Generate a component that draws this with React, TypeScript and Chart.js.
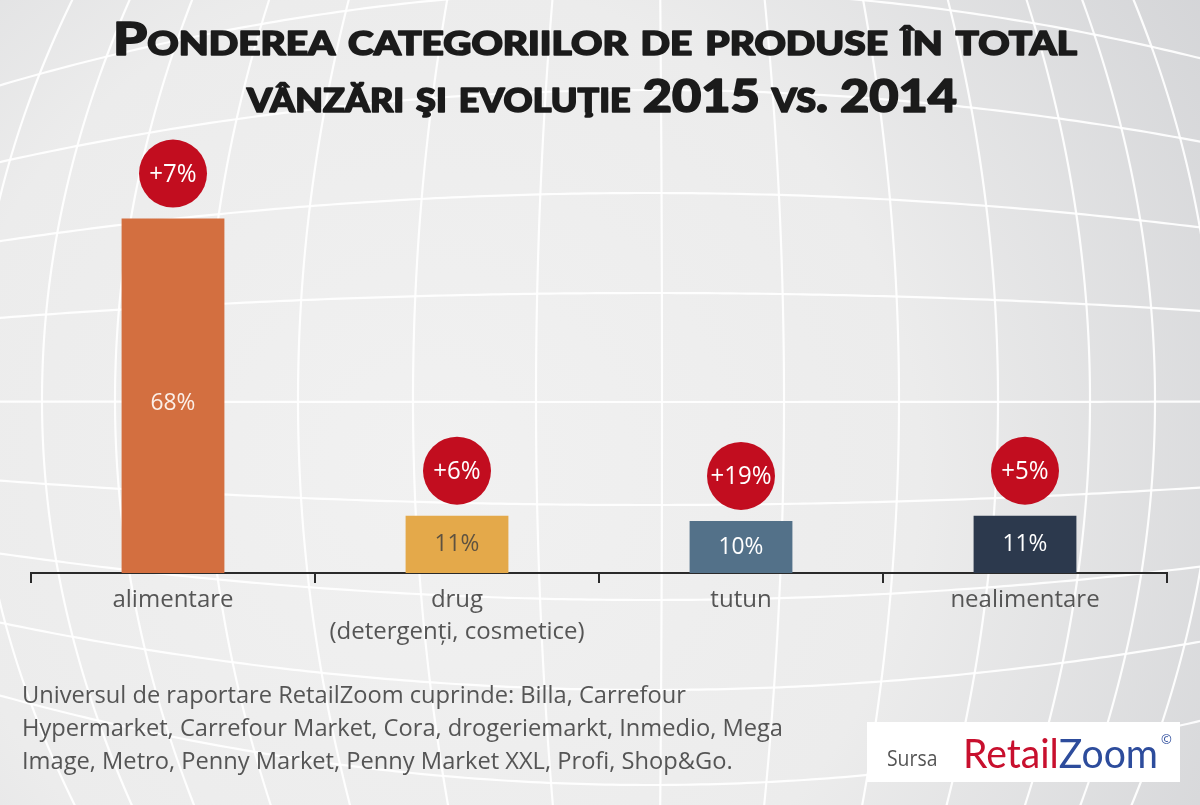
import React, { useEffect, useRef } from "react";
import { Chart, registerables } from "chart.js";

Chart.register(...registerables);

// ---------- data ----------
const categories: string[][] = [
  ["alimentare"],
  ["drug", "(detergenți, cosmetice)"],
  ["tutun"],
  ["nealimentare"],
];
const shareValues = [68, 11, 10, 11];
const growthValues = [7, 6, 19, 5];
const barColors = ["#D36F40", "#E4A94A", "#537189", "#2C394D"];
const valueLabelColors = ["#FBEFE8", "#5E5240", "#FFFFFF", "#FFFFFF"];
const titleLines = [
  "Ponderea categoriilor de produse în total",
  "vânzări şi evoluţie 2015 vs. 2014",
];
const footerLines = [
  "Universul de raportare RetailZoom cuprinde: Billa, Carrefour",
  "Hypermarket, Carrefour Market, Cora, drogeriemarkt, Inmedio, Mega",
  "Image, Metro, Penny Market, Penny Market XXL, Profi, Shop&Go.",
];
const sourceLabel = "Sursa";
const brandParts = ["Retail", "Zoom"];

// ---------- decoration constants ----------
const GRID_ROWS = [-10, 90, 193, 293, 402, 505, 600, 690, 785];
const GRID_COLS = [-25, 42, 115, 205, 298, 413, 536, 662, 784, 899, 998, 1090, 1155, 1215];
const TEXT_FONT = "'Open Sans', 'Noto Sans', sans-serif";
const TITLE_FONT = "Lato, 'DejaVu Sans', sans-serif";

function drawBackground(ctx: CanvasRenderingContext2D, width: number, height: number) {
  const g = ctx.createRadialGradient(430, 470, 0, 430, 470, 980);
  g.addColorStop(0, "#f1f1f1");
  g.addColorStop(0.5, "#ececec");
  g.addColorStop(1, "#d0d1d4");
  ctx.fillStyle = g;
  ctx.fillRect(0, 0, width, height);

  const cx = 650;
  const cy = 400;
  const a = 5.5e-7;
  const b = 9e-7;
  ctx.strokeStyle = "rgba(255,255,255,0.92)";
  ctx.lineWidth = 2.2;
  GRID_ROWS.forEach((yc) => {
    const v = yc - cy;
    ctx.beginPath();
    for (let x = -20; x <= width + 20; x += 8) {
      const u = x - cx;
      const y = cy + v * (1 - a * u * u);
      if (x === -20) ctx.moveTo(x, y);
      else ctx.lineTo(x, y);
    }
    ctx.stroke();
  });
  GRID_COLS.forEach((xc) => {
    const u = xc - cx;
    ctx.beginPath();
    for (let y = -20; y <= height + 20; y += 8) {
      const v = y - cy;
      const x = cx + u * (1 - b * v * v);
      if (y === -20) ctx.moveTo(x, y);
      else ctx.lineTo(x, y);
    }
    ctx.stroke();
  });
}

type Run = { t: string; size: number; w: number };

function buildRuns(ctx: CanvasRenderingContext2D, text: string, big: number, small: number): { runs: Run[]; width: number } {
  const runs: Run[] = [];
  for (const ch of Array.from(text)) {
    const up = ch.toLocaleUpperCase("ro-RO");
    const isSmall = ch !== up;
    const size = isSmall ? small : big;
    const last = runs[runs.length - 1];
    if (last && last.size === size) last.t += up;
    else runs.push({ t: up, size, w: 0 });
  }
  let width = 0;
  runs.forEach((r) => {
    ctx.font = `900 ${r.size}px ${TITLE_FONT}`;
    r.w = ctx.measureText(r.t).width;
    width += r.w;
  });
  return { runs, width };
}

function drawRuns(ctx: CanvasRenderingContext2D, runs: Run[], width: number, cx: number, baseline: number, sx: number) {
  ctx.save();
  ctx.translate(cx - (width * sx) / 2, baseline);
  ctx.scale(sx, 1);
  ctx.fillStyle = "#1b1b1b";
  ctx.strokeStyle = "#1b1b1b";
  ctx.lineWidth = 1.6;
  ctx.lineJoin = "round";
  ctx.textBaseline = "alphabetic";
  ctx.textAlign = "left";
  let x = 0;
  runs.forEach((r) => {
    ctx.font = `900 ${r.size}px ${TITLE_FONT}`;
    ctx.fillText(r.t, x, 0);
    ctx.strokeText(r.t, x, 0);
    x += r.w;
  });
  ctx.restore();
}

const decorPlugin = {
  id: "decor",
  beforeDraw(chart: any) {
    const { ctx, width, height } = chart;
    ctx.save();
    drawBackground(ctx, width, height);
    ctx.restore();
  },
  afterDatasetsDraw(chart: any) {
    const ctx: CanvasRenderingContext2D = chart.ctx;
    const meta = chart.getDatasetMeta(0);
    ctx.save();
    ctx.textAlign = "center";
    ctx.textBaseline = "middle";
    meta.data.forEach((bar: any, i: number) => {
      // value label inside bar
      const h = bar.base - bar.y;
      const ly = h > 150 ? bar.y + h / 2 + 7 : bar.y + h / 2;
      ctx.font = `24px ${TEXT_FONT}`;
      ctx.fillStyle = valueLabelColors[i];
      ctx.save();
      ctx.translate(bar.x, ly);
      ctx.scale(0.95, 1);
      ctx.fillText(`${shareValues[i]}%`, 0, 0);
      ctx.restore();
      // growth bubble
      const cyc = bar.y - 45;
      ctx.beginPath();
      ctx.arc(bar.x, cyc, 34, 0, Math.PI * 2);
      ctx.fillStyle = "#C20D1F";
      ctx.fill();
      ctx.fillStyle = "#FFFFFF";
      ctx.font = `25px ${TEXT_FONT}`;
      ctx.save();
      ctx.translate(bar.x, cyc + 1);
      ctx.scale(0.96, 1);
      ctx.fillText(`+${growthValues[i]}%`, 0, 0);
      ctx.restore();
    });
    ctx.restore();
  },
  afterDraw(chart: any) {
    const ctx: CanvasRenderingContext2D = chart.ctx;
    ctx.save();
    // title (small caps, fitted)
    const l1 = buildRuns(ctx, titleLines[0], 45, 32);
    const l2 = buildRuns(ctx, titleLines[1], 45, 32);
    drawRuns(ctx, l1.runs, l1.width, 595, 55, 964 / l1.width);
    drawRuns(ctx, l2.runs, l2.width, 602, 112, 710 / l2.width);

    // footer
    ctx.font = `24px ${TEXT_FONT}`;
    const fw = ctx.measureText(footerLines[0]).width;
    const fsx = 664 / fw;
    ctx.fillStyle = "#555555";
    ctx.textAlign = "left";
    ctx.textBaseline = "alphabetic";
    footerLines.forEach((line, i) => {
      ctx.save();
      ctx.translate(22, 703 + i * 33);
      ctx.scale(fsx, 1);
      ctx.fillText(line, 0, 0);
      ctx.restore();
    });

    // source box
    ctx.fillStyle = "#FFFFFF";
    ctx.fillRect(867, 722, 313, 60);
    ctx.fillStyle = "#555555";
    ctx.font = `22px ${TEXT_FONT}`;
    ctx.save();
    ctx.translate(887, 766);
    ctx.scale(0.88, 1);
    ctx.fillText(sourceLabel, 0, 0);
    ctx.restore();
    ctx.font = `40px Lato, ${TEXT_FONT}`;
    const rw = ctx.measureText(brandParts[0]).width;
    const zw = ctx.measureText(brandParts[1]).width;
    const bsx = 195 / (rw + zw);
    ctx.save();
    ctx.translate(963, 768);
    ctx.scale(bsx, 1);
    ctx.fillStyle = "#C8102E";
    ctx.fillText(brandParts[0], 0, 0);
    ctx.fillStyle = "#2D4C9C";
    ctx.fillText(brandParts[1], rw, 0);
    ctx.restore();
    ctx.fillStyle = "#2D4C9C";
    ctx.font = `13px ${TEXT_FONT}`;
    ctx.fillText("©", 1161, 744);
    ctx.restore();
  },
};

export default function App() {
  const canvasRef = useRef<HTMLCanvasElement | null>(null);

  useEffect(() => {
    if (!canvasRef.current) return;
    const chart = new Chart(canvasRef.current, {
      type: "bar",
      data: {
        labels: categories,
        datasets: [
          {
            label: "Pondere",
            data: shareValues,
            backgroundColor: barColors,
            borderWidth: 0,
            categoryPercentage: 1,
            barPercentage: 0.362,
          },
        ],
      },
      options: {
        responsive: false,
        animation: false,
        layout: { padding: { left: 31, right: 33, top: 130, bottom: 0 } },
        plugins: {
          legend: { display: false },
          tooltip: { enabled: false },
          title: { display: false },
        },
        scales: {
          y: { display: false, min: 0, max: 85 },
          x: {
            afterFit: (scale: any) => {
              scale.height = 232;
            },
            border: { display: true, color: "#2a2a2a", width: 2 },
            grid: {
              display: true,
              offset: true,
              drawOnChartArea: false,
              drawTicks: true,
              tickLength: 10,
              color: "#2a2a2a",
              lineWidth: 2,
            },
            ticks: {
              color: "#555555",
              padding: 1,
              font: { family: TEXT_FONT, size: 24, lineHeight: 1.33 },
              maxRotation: 0,
              autoSkip: false,
            },
          },
        },
      },
      plugins: [decorPlugin],
    });
    return () => chart.destroy();
  }, []);

  return (
    <div style={{ position: "absolute", left: 0, top: 0, width: 1200, height: 805 }}>
      <canvas ref={canvasRef} width={1200} height={805} style={{ display: "block" }} />
    </div>
  );
}
